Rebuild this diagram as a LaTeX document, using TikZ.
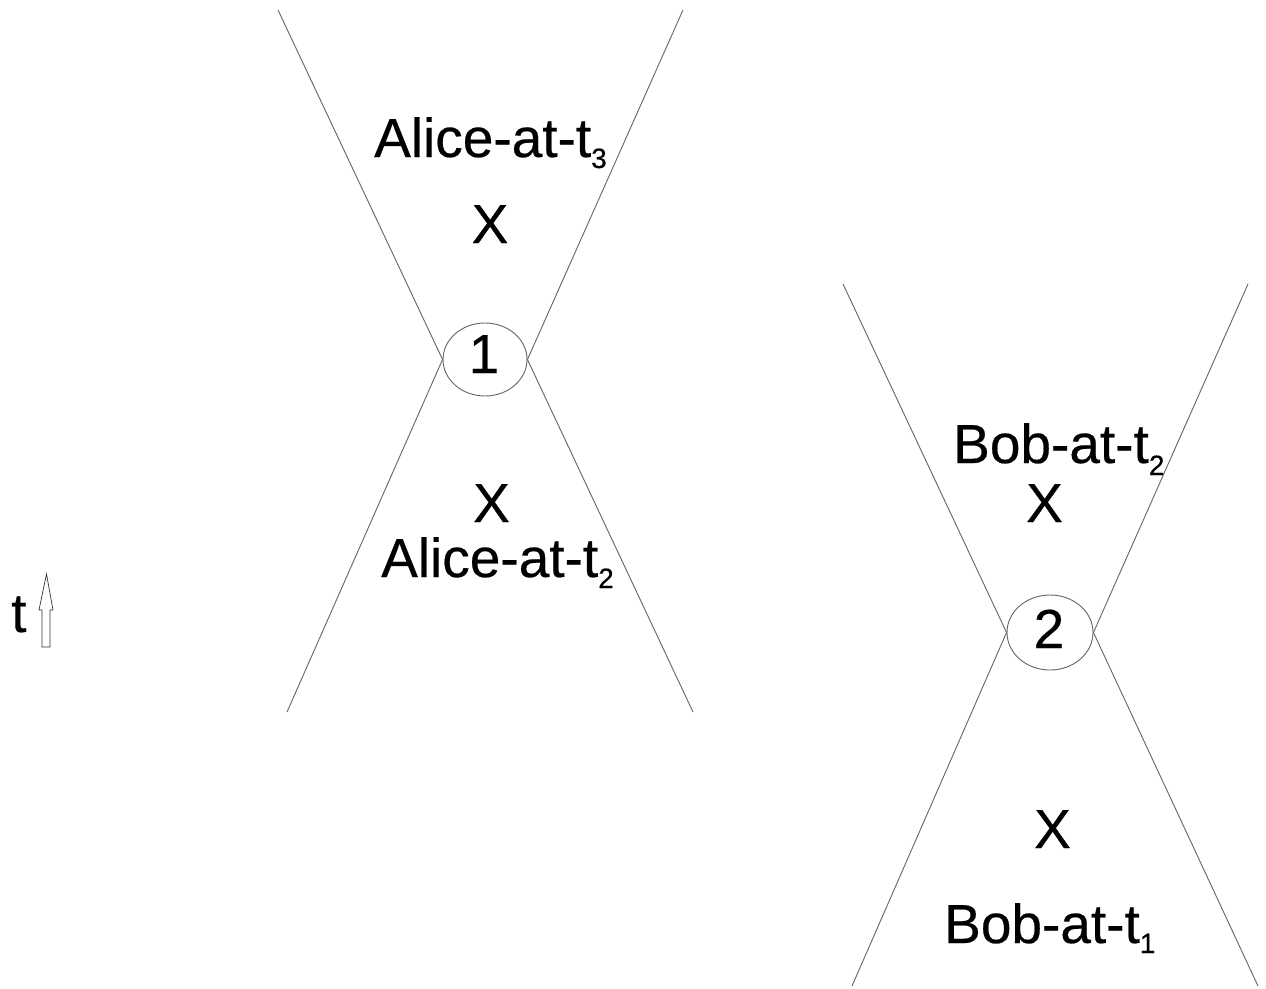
\documentclass[tikz,border=0pt]{standalone}
\usepackage{fontspec}
\setmainfont{Liberation Sans}[FakeBold=0.4]
\newfontfamily\heavysans{Liberation Sans}[FakeBold=0.4]
\usetikzlibrary{shapes.geometric}
\definecolor{cone}{RGB}{100,100,100}
\newcommand{\lowsub}[2]{\raisebox{-#1pt}{\fontsize{28}{28}\selectfont #2}}
\begin{document}
\begin{tikzpicture}[x=1pt,y=-1pt,
  coneline/.style={draw=cone,line width=0.9pt},
  evt/.style={ellipse,draw=cone,line width=0.9pt,inner sep=0pt},
  lbl/.style={font=\heavysans\fontsize{55}{60}\selectfont,inner sep=0pt,text=black}]
\useasboundingbox (0,0) rectangle (1266,988);
% Alice
\node[evt,minimum width=84pt,minimum height=73pt] (e1) at (485,359.5) {};
\coordinate (a-tl) at (278,10);
\coordinate (a-tr) at (683,10);
\coordinate (a-bl) at (287,712);
\coordinate (a-br) at (693,712);
\draw[coneline] (a-tl) -- (e1.west) -- (a-bl);
\draw[coneline] (a-tr) -- (e1.east) -- (a-br);
\node[lbl,anchor=base] (n1) at (484,373) {1};
\node[lbl,anchor=base west] (at3) at (374,157) {Alice-at-t\lowsub{11}{3}};
\node[lbl,anchor=base] (xa3) at (490,243) {X};
\node[lbl,anchor=base] (xa2) at (491.5,522) {X};
\node[lbl,anchor=base west] (at2) at (381,577) {Alice-at-t\lowsub{11}{2}};
% Bob
\node[evt,minimum width=86pt,minimum height=75pt] (e2) at (1050,632.5) {};
\coordinate (b-tl) at (843,284);
\coordinate (b-tr) at (1248,284);
\coordinate (b-bl) at (852,986);
\coordinate (b-br) at (1258,986);
\draw[coneline] (b-tl) -- (e2.west) -- (b-bl);
\draw[coneline] (b-tr) -- (e2.east) -- (b-br);
\node[lbl,anchor=base] (n2) at (1049,648) {2};
\node[lbl,anchor=base west] (bt2) at (953,463) {Bob-at-t\lowsub{12}{2}};
\node[lbl,anchor=base] (xb2) at (1044.5,522) {X};
\node[lbl,anchor=base] (xb1) at (1052.5,848) {X};
\node[lbl,anchor=base west] (bt1) at (944,943) {Bob-at-t\lowsub{10}{1}};
% time arrow
\node[lbl,anchor=base west] (t) at (11,632) {t};
\draw[draw=black!80,line width=0.7pt,fill=white]
  (42,647) -- (50,647) -- (50,610) -- (53,610) -- (46.5,574) -- (39,610) -- (42,610) -- cycle;
\end{tikzpicture}
\end{document}
